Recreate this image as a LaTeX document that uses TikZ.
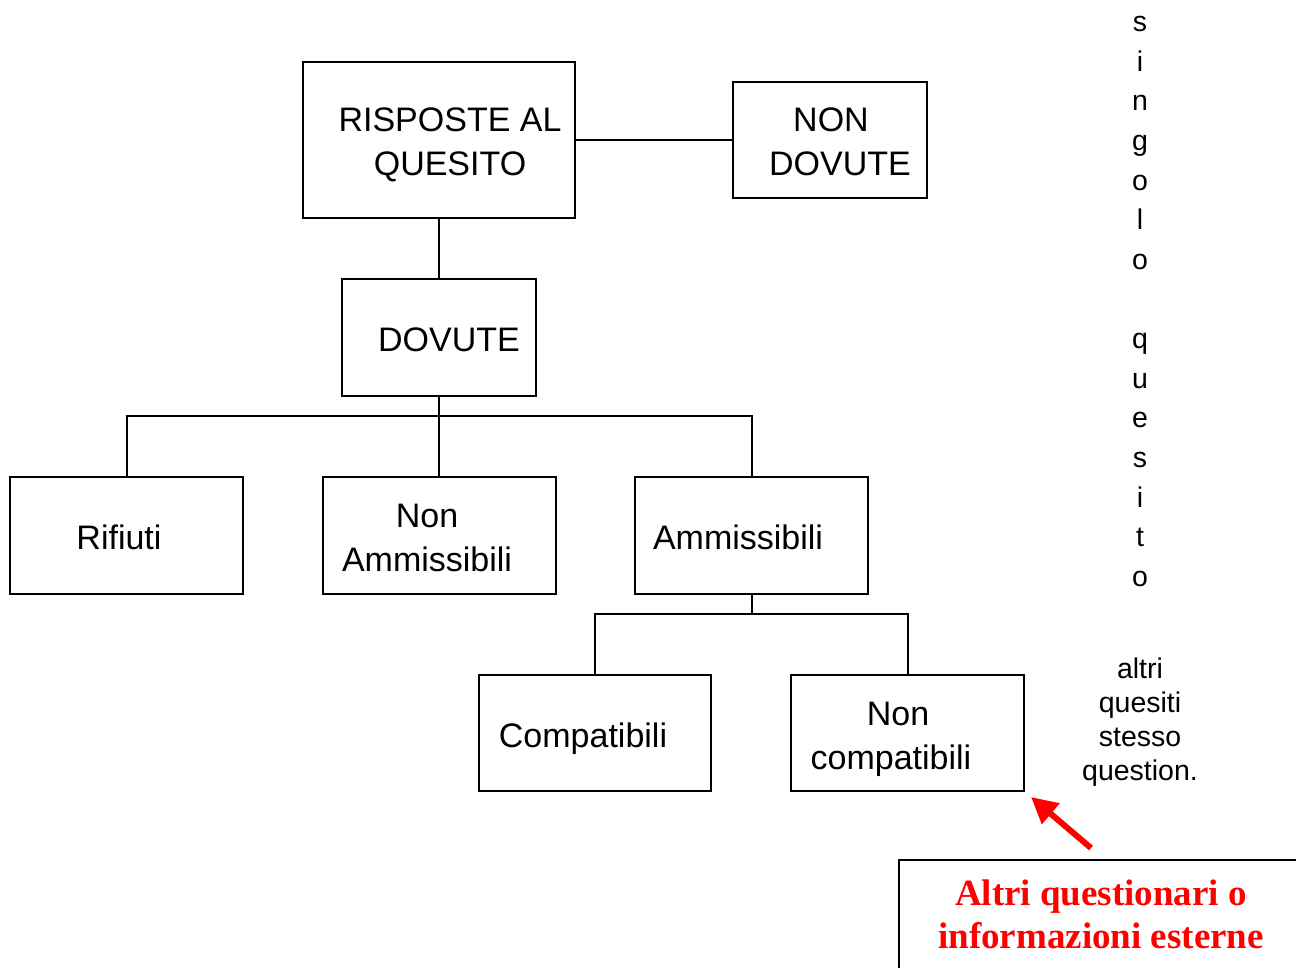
\documentclass[tikz,border=0pt]{standalone}
\usepackage{fontspec}
\setmainfont{Liberation Sans}
\newfontfamily\serifb{Liberation Serif}
\usetikzlibrary{arrows.meta}
\begin{document}
\begin{tikzpicture}[x=1pt,y=-1pt,
  box/.style={draw,line width=2pt,inner sep=0pt},
  txt/.style={align=center,inner sep=0pt,font=\fontsize{34}{44}\selectfont},
  side/.style={align=center,inner sep=0pt},
  conn/.style={line width=2pt}]
\useasboundingbox (0,0) rectangle (1296,967);
% boxes
\node[box,minimum width=272pt,minimum height=156pt] (ris) at (439,140) {};
\node[txt] (rist) at (450,145) {RISPOSTE AL\\QUESITO};
\node[box,minimum width=194pt,minimum height=116pt] (nd) at (830,140) {};
\node[txt] (ndt) at (840,142) {NON\rule{18pt}{0pt}\\DOVUTE};
\node[box,minimum width=194pt,minimum height=117pt] (dov) at (439,337.5) {};
\node[txt] (dovt) at (449,340) {DOVUTE};
\node[box,minimum width=233pt,minimum height=117pt] (rif) at (126.5,535.5) {};
\node[txt] (rift) at (119,537) {Rifiuti};
\node[box,minimum width=233pt,minimum height=117pt] (na) at (439,535.5) {};
\node[txt] (nat) at (427,538) {Non\\Ammissibili};
\node[box,minimum width=233pt,minimum height=117pt] (amm) at (751.5,535.5) {};
\node[txt] (ammt) at (738,537) {Ammissibili};
\node[box,minimum width=232pt,minimum height=116pt] (comp) at (595,733) {};
\node[txt] (compt) at (583,739) {Compatibili};
\node[box,minimum width=233pt,minimum height=116pt] (nc) at (907.5,733) {};
\node[txt] (nct) at (891,739) {\hspace{14pt}Non\\compatibili};
% connectors
\coordinate (b1) at (439,416);
\coordinate (b2) at (751.5,614);
\draw[conn] (ris.east) -- (nd.west);
\draw[conn] (ris.south) -- (dov.north);
\draw[conn] (dov.south) -- (na.north);
\draw[conn] (rif.north) |- (b1) -| (amm.north);
\draw[conn] (amm.south) -- (b2);
\draw[conn] (comp.north) |- (b2) -| (nc.north);
% side texts
\node[side,font=\fontsize{28.5}{39.64}\selectfont] (sq) at (1140,301.5)
  {s\\i\\n\\g\\o\\l\\o\\\mbox{}\\q\\u\\e\\s\\i\\t\\o};
\node[side,font=\fontsize{28.5}{34}\selectfont] (alq) at (1140,722)
  {altri\\quesiti\\stesso\\question.};
% external box
\node[box,minimum width=404pt,minimum height=112pt] (alt) at (1101,916) {};
\node[align=center,inner sep=0pt,text=red,font=\serifb\bfseries\fontsize{37}{43}\selectfont] (altt) at (1101,914)
  {Altri questionari o\\informazioni esterne};
\coordinate (as) at (1091,848);
\draw[red,line width=6pt,-{Triangle[length=26pt,width=26pt]}] (as) -- ([shift={(6,5)}]nc.south east);
\end{tikzpicture}
\end{document}
